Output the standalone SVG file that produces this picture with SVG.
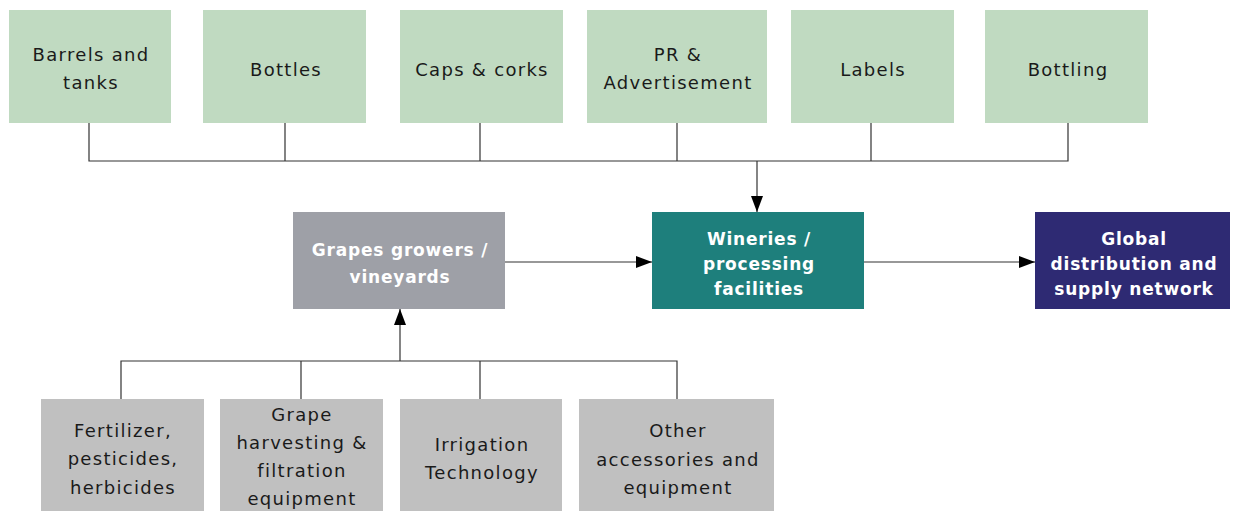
<svg xmlns="http://www.w3.org/2000/svg" width="1233" height="511" viewBox="0 0 1233 511">
<defs>
<style>
.top{fill:#c0dac1}
.sub{fill:#c0c0c0}
.t{font-family:"DejaVu Sans","Liberation Sans",sans-serif;font-size:18px;letter-spacing:1.3px;fill:#1a1a1a;text-anchor:middle}
.w{font-family:"DejaVu Sans","Liberation Sans",sans-serif;font-size:17px;font-weight:bold;letter-spacing:0.8px;fill:#ffffff;text-anchor:middle}
.ln{stroke:#333;stroke-width:1.2;fill:none}
</style>
<marker id="ah" viewBox="0 0 16 12" refX="16" refY="6" markerWidth="16" markerHeight="12" markerUnits="userSpaceOnUse" orient="auto">
<path d="M0,0 L16,6 L0,12 z" fill="#000"/>
</marker>
</defs>
<rect width="1233" height="511" fill="#fff"/>
<g id="connectors">
<path class="ln" d="M89,123 V161 H1068 V123 M285,123 V161 M480,123 V161 M677,123 V161 M871,123 V161"/>
<path class="ln" d="M757,161 V212" marker-end="url(#ah)"/>
<path class="ln" d="M505,262 H652" marker-end="url(#ah)"/>
<path class="ln" d="M864,262 H1035" marker-end="url(#ah)"/>
<path class="ln" d="M121,399 V361 H677 V399 M301,399 V361 M480,399 V361"/>
<path class="ln" d="M400,361 V309" marker-end="url(#ah)"/>
</g>
<g id="barrels"><rect class="top" x="9" y="10" width="162" height="113"/><text class="t" x="91" y="61">Barrels and</text><text class="t" x="91" y="89">tanks</text></g>
<g id="bottles"><rect class="top" x="203" y="10" width="163" height="113"/><text class="t" x="286" y="76">Bottles</text></g>
<g id="caps"><rect class="top" x="400" y="10" width="163" height="113"/><text class="t" x="482" y="76">Caps &amp; corks</text></g>
<g id="pr"><rect class="top" x="587" y="10" width="180" height="113"/><text class="t" x="678" y="61">PR &amp;</text><text class="t" x="678" y="89">Advertisement</text></g>
<g id="labels"><rect class="top" x="791" y="10" width="163" height="113"/><text class="t" x="873" y="76">Labels</text></g>
<g id="bottling"><rect class="top" x="985" y="10" width="163" height="113"/><text class="t" x="1068" y="76">Bottling</text></g>
<g id="grapes"><rect x="293" y="212" width="212" height="97" fill="#9ea0a7"/><text class="w" x="400" y="256">Grapes growers /</text><text class="w" x="400" y="283">vineyards</text></g>
<g id="wineries"><rect x="652" y="212" width="212" height="97" fill="#1e7f7c"/><text class="w" x="759" y="245">Wineries /</text><text class="w" x="759" y="270">processing</text><text class="w" x="759" y="295">facilities</text></g>
<g id="global"><rect x="1035" y="212" width="195" height="97" fill="#2e2a73"/><text class="w" x="1134" y="245">Global</text><text class="w" x="1134" y="270">distribution and</text><text class="w" x="1134" y="295">supply network</text></g>
<g id="fertilizer"><rect class="sub" x="41" y="399" width="163" height="112"/><text class="t" x="123" y="437">Fertilizer,</text><text class="t" x="123" y="465">pesticides,</text><text class="t" x="123" y="494">herbicides</text></g>
<g id="harvesting"><rect class="sub" x="220" y="399" width="163" height="112"/><text class="t" x="302" y="421">Grape</text><text class="t" x="302" y="449">harvesting &amp;</text><text class="t" x="302" y="477">filtration</text><text class="t" x="302" y="505">equipment</text></g>
<g id="irrigation"><rect class="sub" x="400" y="399" width="162" height="112"/><text class="t" x="482" y="451">Irrigation</text><text class="t" x="482" y="479">Technology</text></g>
<g id="other"><rect class="sub" x="579" y="399" width="195" height="112"/><text class="t" x="678" y="437">Other</text><text class="t" x="678" y="466">accessories and</text><text class="t" x="678" y="494">equipment</text></g>
</svg>
